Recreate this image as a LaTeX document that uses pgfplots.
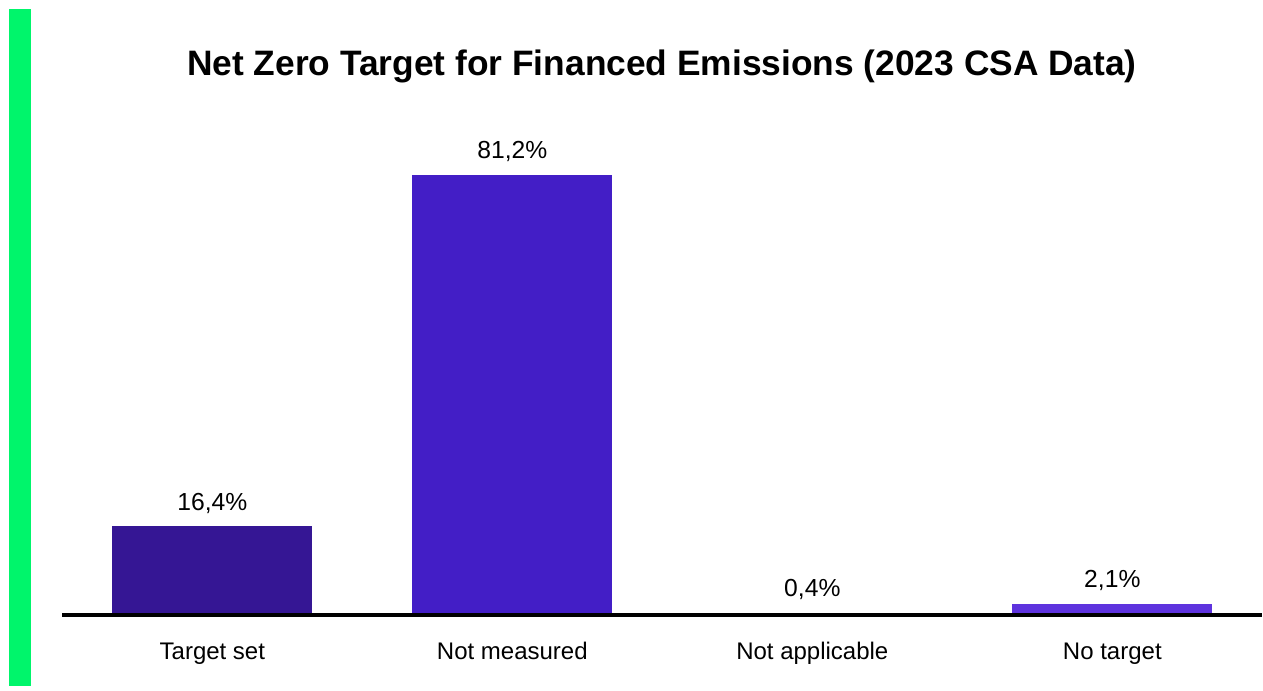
\documentclass[border=0pt]{standalone}
\usepackage{pgfplots}
\pgfplotsset{compat=1.18}
\usepackage{fontspec}
\setmainfont{Liberation Sans}
\definecolor{greenbar}{HTML}{00F56B}
\definecolor{cA}{HTML}{351694}
\definecolor{cB}{HTML}{431EC6}
\definecolor{cC}{HTML}{4F28D2}
\definecolor{cD}{HTML}{5E33DE}
\begin{document}
\begin{tikzpicture}[x=0.75pt,y=0.75pt]
\path[use as bounding box] (0,0) rectangle (1263,691);
\fill[greenbar] (9,5) rectangle (31,682);
\node[font=\fontsize{26.5}{30}\selectfont\bfseries, anchor=base] at (662,615) {Net Zero Target for Financed Emissions (2023 CSA Data)};
\begin{axis}[
  at={(46.75pt,57pt)}, anchor=south west,
  scale only axis, width=900pt, height=365.8pt,
  xmin=-0.5, xmax=3.5, ymin=0, ymax=90,
  axis on top,
  axis x line*=bottom, axis y line=none,
  x axis line style={-, line width=3.2pt, black},
  xtick={0,1,2,3},
  xticklabels={Target set, Not measured, Not applicable, No target},
  major tick length=0pt,
  ytick=\empty,
  xticklabel style={anchor=base, yshift=-33.5pt, font=\fontsize{18}{21}\selectfont},
  ybar, bar width=150pt, bar shift=0pt,
  clip=false,
  /pgf/number format/assume math mode=true,
  nodes near coords={\pgfmathprintnumber[fixed,fixed zerofill,precision=1,use comma,assume math mode=true]{\pgfplotspointmeta}\%},
  nodes near coords style={anchor=base, yshift=12pt, font=\fontsize{18.5}{21}\selectfont, black},
]
\addplot[fill=cA, draw=none] coordinates {(0,16.4)};
\addplot[fill=cB, draw=none] coordinates {(1,81.2)};
\addplot[fill=cC, draw=none] coordinates {(2,0.4)};
\addplot[fill=cD, draw=none] coordinates {(3,2.1)};
\end{axis}
\end{tikzpicture}
\end{document}
